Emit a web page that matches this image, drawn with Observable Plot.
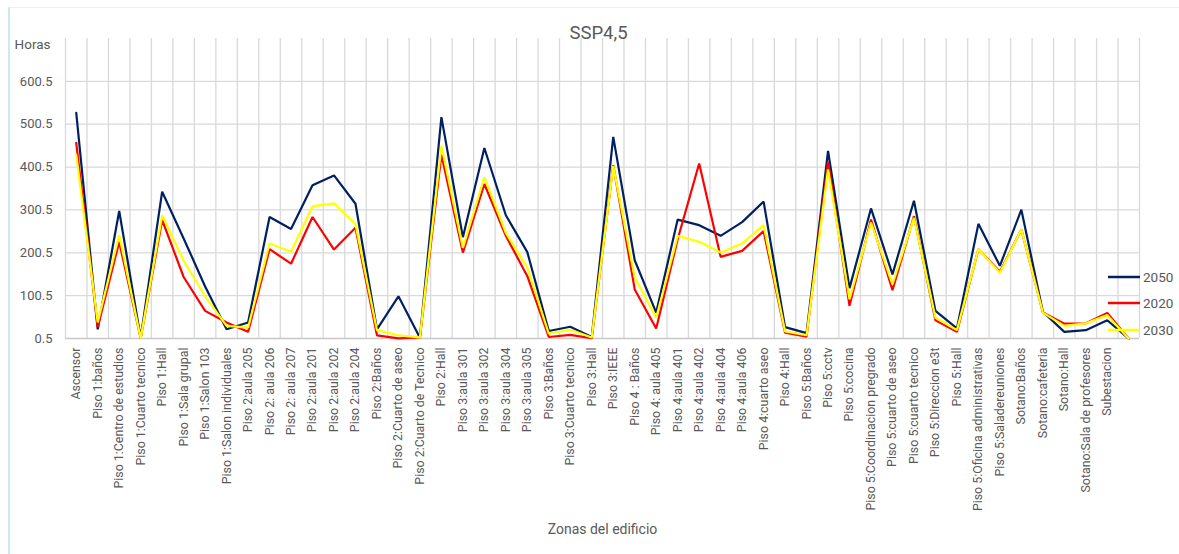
<!DOCTYPE html>
<html>
<head>
<meta charset="utf-8">
<script src="https://cdn.jsdelivr.net/npm/d3@7"></script>
<script src="https://cdn.jsdelivr.net/npm/@observablehq/plot@0.6"></script>
<style>
  html, body { margin: 0; padding: 0; background: #fff; }
  #wrap { position: relative; width: 1179px; height: 554px; overflow: hidden; font-family: Roboto, "Liberation Sans", sans-serif; }
  #frame { position: absolute; left: 8px; top: 7px; width: 1300px; height: 700px; border-left: 2px solid #cfe6f7; border-top: 1px solid #e4f1fb; box-sizing: border-box; }
  #chart { position: absolute; left: 0; top: 0; }
  #legend { position: absolute; left: 1108px; top: 0; width: 71px; height: 554px; }
</style>
</head>
<body>
<div id="wrap">
  <div id="frame"></div>
  <div id="chart"></div>
  <div id="legend"></div>
</div>
<script>
const title = "SSP4,5";
const yLabel = "Horas";
const xLabel = "Zonas del edificio";

const categories = [
  "Ascensor", "Piso 1:baños", "Piso 1:Centro de estudios", "Piso 1:Cuarto tecnico", "Piso 1:Hall",
  "Piso 1:Sala grupal", "Piso 1:Salon 103", "Piso 1:Salon individuales", "Piso 2:aula 205", "Piso 2: aula 206",
  "Piso 2: aula 207", "Piso 2:aula 201", "Piso 2:aula 202", "Piso 2:aula 204", "Piso 2:Baños",
  "Piso 2:Cuarto de aseo", "Piso 2:Cuarto de Tecnico", "Piso 2:Hall", "Piso 3:aula 301", "Piso 3:aula 302",
  "Piso 3:aula 304", "Piso 3:aula 305", "Piso 3:Baños", "Piso 3:Cuarto tecnico", "Piso 3:Hall",
  "Piso 3:IEEE", "Piso 4 : Baños", "Piso 4: aula 405", "Piso 4:aula 401", "Piso 4:aula 402",
  "Piso 4:aula 404", "Piso 4:aula 406", "Piso 4:cuarto aseo", "Piso 4:Hall", "Piso 5:Baños",
  "Piso 5:cctv", "Piso 5:cocina", "Piso 5:Coordinacion pregrado", "Piso 5:cuarto de aseo", "Piso 5:cuarto tecnico",
  "Piso 5:Direccion e3t", "Piso 5:Hall", "Piso 5:Oficina administrativas", "Piso 5:Saladereuniones", "Sotano:Baños",
  "Sotano:cafeteria", "Sotano:Hall", "Sotano:Sala de profesores", "Subestacion", ""
];

const v2050 = [
  527, 22, 298, 2, 343, 234, 122, 22, 38, 284,
  256, 358, 381, 315, 22, 99, 2, 517, 237, 445,
  288, 202, 18, 28, 4, 471, 183, 61, 278, 265,
  240, 272, 320, 27, 13, 438, 118, 304, 150, 322,
  65, 24, 268, 170, 301, 63, 16, 20, 43, 0
];
const v2020 = [
  457, 27, 226, 1, 277, 144, 65, 38, 16, 209,
  175, 284, 208, 259, 8, 1, 3, 430, 201, 361,
  240, 146, 4, 9, 1, 405, 115, 24, 232, 409,
  191, 205, 251, 14, 5, 413, 77, 278, 113, 286,
  43, 16, 209, 156, 255, 61, 35, 36, 60, 0
];
const v2030 = [
  429, 38, 242, 0.5, 288, 182, 99, 30, 26, 222,
  203, 309, 316, 267, 20, 8, 3, 450, 212, 377,
  247, 166, 12, 21, 3, 403, 143, 49, 240, 226,
  201, 222, 265, 17, 8, 395, 92, 271, 127, 282,
  49, 20, 209, 154, 255, 61, 30, 36, 55, 0
];

const seriesNames = ["2050", "2020", "2030"];
const seriesColors = ["#002060", "#FF0000", "#FFFF00"];
const yTicks = [0.5, 100.5, 200.5, 300.5, 400.5, 500.5, 600.5];
const yDomain = [0.5, 700.5];

const seriesValues = [v2050, v2020, v2030];
const rows = [];
seriesNames.forEach((s, k) => {
  categories.forEach((c, i) => rows.push({i, zona: c, serie: s, horas: seriesValues[k][i]}));
});

const textColor = "#595959";
const n = categories.length;
const boundaries = d3.range(n + 1).map(k => k - 0.5);

const chart = Plot.plot({
  width: 1179,
  height: 554,
  marginLeft: 65,
  marginRight: 40,
  marginTop: 38,
  marginBottom: 216,
  style: {fontFamily: "Roboto, 'Liberation Sans', sans-serif", background: "transparent", color: textColor},
  x: {type: "linear", domain: [-0.5, n - 0.5], axis: null},
  y: {domain: yDomain, axis: null},
  color: {domain: seriesNames, range: seriesColors},
  marks: [
    Plot.ruleX(boundaries, {stroke: "#d9d9d9", strokeWidth: 1.3}),
    Plot.ruleY(yTicks.slice(1), {stroke: "#d9d9d9", strokeWidth: 1.3}),
    Plot.ruleY([yTicks[0]], {stroke: "#c8c8c8", strokeWidth: 1.6}),
    Plot.axisY(yTicks, {tickSize: 0, tickPadding: 13, fontSize: 13, fill: textColor, tickFormat: d => d.toFixed(1), label: null}),
    Plot.axisX(d3.range(n), {tickSize: 0, tickPadding: 9, tickRotate: -90, fontSize: 12.4, fill: textColor, tickFormat: i => categories[i], label: null}),
    Plot.line(rows, {x: "i", y: "horas", z: "serie", stroke: "serie", strokeWidth: 2.2, strokeLinejoin: "miter"}),
    Plot.text([title], {frameAnchor: "top", dx: -4, dy: -5, lineAnchor: "middle", fontSize: 18.5, fill: textColor}),
    Plot.text([yLabel], {frameAnchor: "top-left", dx: -15, dy: 6, textAnchor: "end", lineAnchor: "middle", fontSize: 13.5, fill: textColor}),
    Plot.text([xLabel], {frameAnchor: "bottom", dy: 191, lineAnchor: "middle", fontSize: 14, fill: textColor})
  ]
});
document.getElementById("chart").appendChild(chart);

// legend
const legendY = [277, 303, 330];
const lg = d3.select("#legend").append("svg").attr("width", 71).attr("height", 554);
seriesNames.forEach((s, k) => {
  lg.append("line").attr("x1", 0).attr("x2", 32).attr("y1", legendY[k]).attr("y2", legendY[k])
    .attr("stroke", seriesColors[k]).attr("stroke-width", 2.5);
  lg.append("text").attr("x", 35).attr("y", legendY[k]).attr("dy", "0.35em")
    .attr("font-size", 13.5).attr("fill", textColor).attr("font-family", "Roboto, 'Liberation Sans', sans-serif").text(s);
});
</script>
</body>
</html>
